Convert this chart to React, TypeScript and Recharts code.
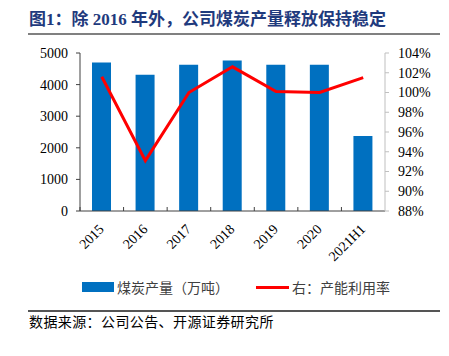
import React from 'react';
import { ComposedChart, Bar, Line, XAxis, YAxis, Legend } from 'recharts';

const categories = ['2015', '2016', '2017', '2018', '2019', '2020', '2021H1'];
const coalOutput = [4700, 4310, 4630, 4760, 4630, 4630, 2370];
const utilization = [101.6, 93.1, 100.0, 102.6, 100.1, 100.0, 101.5];
const leftTicks = [0, 1000, 2000, 3000, 4000, 5000];
const rightTicks = [88, 90, 92, 94, 96, 98, 100, 102, 104];

const barName = '煤炭产量（万吨）';
const lineName = '右：产能利用率';
const titleText = '图1：除 2016 年外，公司煤炭产量释放保持稳定';
const sourceText = '数据来源：公司公告、开源证券研究所';

const data = categories.map((c, i) => ({ name: c, output: coalOutput[i], rate: utilization[i] }));

const SERIF = "'Liberation Serif', 'Times New Roman', 'Noto Sans CJK SC', serif";
const CJK = "'Liberation Serif', 'Noto Sans CJK SC', sans-serif";

const XTick = (props: any) => {
  const { x, y, payload } = props;
  const off = payload && typeof payload.offset === 'number' ? payload.offset : 0;
  return (
    <g>
      <line x1={x - off} y1={y} x2={x - off} y2={y - 4} stroke="#404040" strokeWidth={1} />
      <g transform={`translate(${x + 3},${y + 19}) rotate(-45)`}>
        <text x={0} y={0} textAnchor="end" fontSize={14} fontFamily={SERIF} fill="#000">
          {payload.value}
        </text>
      </g>
    </g>
  );
};

const legendX = [82, 256];

const LegendContent = (props: any) => {
  const payload = props.payload || [];
  return (
    <div style={{ position: 'relative', width: 449, height: 20 }}>
      {payload.map((entry: any, i: number) => {
        const isLine = entry.type === 'line';
        const left = isLine ? legendX[1] : legendX[0];
        return (
          <div key={i} style={{ position: 'absolute', left, top: 0, height: 20, display: 'flex', alignItems: 'center' }}>
            {isLine ? (
              <span style={{ display: 'inline-block', width: 33, height: 3, background: entry.color }} />
            ) : (
              <span style={{ display: 'inline-block', width: 32, height: 10, background: entry.color }} />
            )}
            <span style={{ marginLeft: 3, fontSize: 14, fontFamily: CJK, color: '#404040', whiteSpace: 'nowrap' }}>
              {entry.value}
            </span>
          </div>
        );
      })}
    </div>
  );
};

export default function App() {
  return (
    <div style={{ position: 'absolute', left: 0, top: 0, width: 449, height: 356, background: '#fff', overflow: 'hidden' }}>
      <div
        style={{
          position: 'absolute',
          left: 29,
          top: 10,
          fontSize: 17,
          fontWeight: 'bold',
          color: '#1F3A7D',
          fontFamily: CJK,
          whiteSpace: 'nowrap',
          lineHeight: '20px',
        }}
      >
        {titleText}
      </div>
      <div style={{ position: 'absolute', left: 28, top: 33, width: 412, height: 2, background: '#808080' }} />
      <div style={{ position: 'absolute', left: 0, top: 0 }}>
        <ComposedChart width={449} height={356} data={data} margin={{ top: 53, right: 4, left: 30, bottom: 75 }}>
          <XAxis
            dataKey="name"
            xAxisId="cat"
            height={50}
            interval={0}
            tickLine={false}
            tickSize={0}
            tickMargin={0}
            stroke="#404040"
            tick={<XTick />}
          />
          <YAxis
            yAxisId="left"
            domain={[0, 5000]}
            ticks={leftTicks}
            interval={0}
            width={50}
            tickSize={4}
            tickMargin={8}
            stroke="#404040"
            tick={{ fill: '#000', fontSize: 14, fontFamily: SERIF }}
          />
          <YAxis
            yAxisId="right"
            orientation="right"
            domain={[88, 104]}
            ticks={rightTicks}
            interval={0}
            tickFormatter={(v: number) => `${v}%`}
            width={60}
            tickSize={4}
            tickMargin={9}
            stroke="#BFBFBF"
            tick={{ fill: '#000', fontSize: 14, fontFamily: SERIF }}
          />
          <Bar
            xAxisId="cat"
            yAxisId="left"
            dataKey="output"
            name={barName}
            fill="#0070C0"
            barSize={19}
            isAnimationActive={false}
          />
          <Line
            xAxisId="cat"
            yAxisId="right"
            dataKey="rate"
            name={lineName}
            type="linear"
            stroke="#FF0000"
            strokeWidth={3}
            dot={false}
            activeDot={false}
            isAnimationActive={false}
          />
          <Legend
            content={<LegendContent />}
            wrapperStyle={{ top: 277, left: 0, width: 449, height: 20 }}
          />
        </ComposedChart>
      </div>
      <div style={{ position: 'absolute', left: 28, top: 310, width: 412, height: 2, background: '#555' }} />
      <div
        style={{
          position: 'absolute',
          left: 29,
          top: 314,
          fontSize: 14,
          lineHeight: '18px',
          color: '#000',
          fontFamily: CJK,
          letterSpacing: 0.4,
          whiteSpace: 'nowrap',
        }}
      >
        {sourceText}
      </div>
    </div>
  );
}
